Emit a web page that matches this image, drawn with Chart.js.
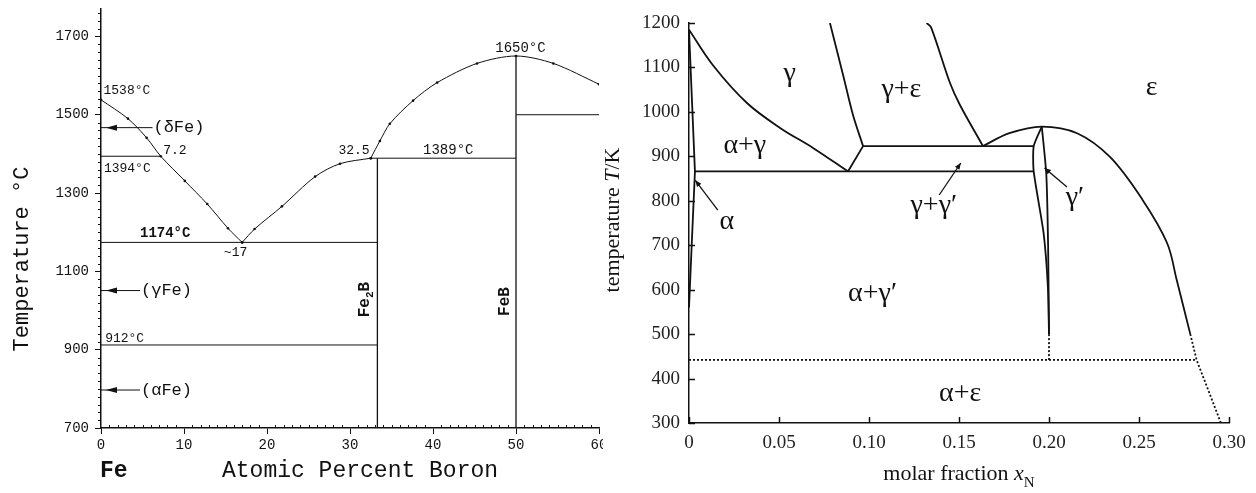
<!DOCTYPE html>
<html lang="en">
<head>
<meta charset="UTF-8" />
<title>Fe-B and Fe-N phase diagrams</title>
<script src="https://cdn.jsdelivr.net/npm/chart.js"></script>
<style>
  body { margin: 0; background: #fff; }
  #wrap { position: relative; width: 1256px; height: 493px; overflow: hidden; background: #fff; }
  #feb { position: absolute; left: 0; top: 0; }
  #fen { position: absolute; left: 600px; top: 0; }
</style>
</head>
<body>
<div id="wrap">
  <canvas id="feb" width="603" height="493"></canvas>
  <canvas id="fen" width="656" height="493"></canvas>
</div>
<script>
  // ---------- Fe-B (left panel), x = at.% B, y = °C ----------
  const FEB_X_TICKS = [0, 10, 20, 30, 40, 50, 60];
  const FEB_Y_TICKS = [700, 900, 1100, 1300, 1500, 1700];

  const FEB_LIQ_A_X = [0, 3.25, 5.5, 7.2, 10.1, 12.8, 15.3, 17];
  const FEB_LIQ_A_T = [1538, 1490, 1441, 1394, 1331, 1272, 1210, 1174];
  const FEB_LIQ_B_X = [17, 18.5, 21.8, 25.8, 28.8, 32.5];
  const FEB_LIQ_B_T = [1174, 1208, 1266, 1342, 1375, 1389];
  const FEB_LIQ_C_X = [32.5, 33.6, 34.8, 37.6, 40.5, 45.3, 50, 54.5, 60];
  const FEB_LIQ_C_T = [1389, 1433, 1477, 1536, 1582, 1631, 1650, 1631, 1578];

  // isotherms: from x0 to x1 at T
  const FEB_ISO_X0 = [0, 0, 0, 32.5, 50];
  const FEB_ISO_X1 = [7.2, 33.3, 33.3, 50, 60];
  const FEB_ISO_T = [1394, 1174, 912, 1389, 1500];

  // compounds (vertical lines)
  const FEB_COMP_X = [33.3, 50];
  const FEB_COMP_TOP = [1389, 1650];

  // pure-iron phases marked by arrows
  const FEB_PHASES = ['(δFe)', '(γFe)', '(αFe)'];
  const FEB_PHASE_T = [1467, 1051, 797];
  const FEB_ARROW_END = [6.2, 4.7, 4.7];

  // ---------- Fe-N (right panel), x = molar fraction N, y = K ----------
  const FEN_X_TICKS = [0, 0.05, 0.10, 0.15, 0.20, 0.25, 0.30];
  const FEN_Y_TICKS = [300, 400, 500, 600, 700, 800, 900, 1000, 1100, 1200];

  const FEN_ALPHA_X = [0, 0.0033, 0.0015, 0];
  const FEN_ALPHA_T = [1185, 866, 700, 560];
  const FEN_GAMMA_X = [0, 0.0133, 0.0322, 0.0506, 0.0689, 0.0883];
  const FEN_GAMMA_T = [1185, 1105, 1020, 964, 919, 866];
  const FEN_GE_L_X = [0.0783, 0.0856, 0.0911, 0.0967];
  const FEN_GE_L_T = [1200, 1083, 993, 923];
  const FEN_EUT_X = [0.0883, 0.0967];
  const FEN_EUT_T = [866, 923];
  const FEN_GE_R_X = [0.132, 0.1345, 0.145, 0.1506, 0.1633];
  const FEN_GE_R_T = [1200, 1190, 1065, 1015, 923];
  const FEN_EPS_X = [0.1633, 0.178, 0.196, 0.2156, 0.234, 0.252, 0.2656, 0.271, 0.2785];
  const FEN_EPS_T = [923, 952, 967, 952, 898, 802, 705, 621, 500];
  const FEN_EPS_DOT_X = [0.2785, 0.282, 0.2955];
  const FEN_EPS_DOT_T = [500, 442, 300];
  const FEN_GP_L_X = [0.196, 0.1915, 0.1915, 0.197, 0.1994, 0.2];
  const FEN_GP_L_T = [967, 923, 866, 727, 605, 500];
  const FEN_GP_R_X = [0.196, 0.1985, 0.1995, 0.2];
  const FEN_GP_R_T = [967, 860, 700, 500];
  const FEN_GP_DOT_X = [0.2, 0.2];
  const FEN_GP_DOT_T = [500, 442];
  const FEN_ISO_X0 = [0.0967, 0.0033];
  const FEN_ISO_X1 = [0.1915, 0.1915];
  const FEN_ISO_T = [923, 866];
  const FEN_LOW_X = [0, 0.282];
  const FEN_LOW_T = [442, 442];

  const INK = '#111';

  function pts(xs, ys) { return xs.map((x, i) => ({ x: x, y: ys[i] })); }

  function line(data, opts) {
    return Object.assign({
      data: data, showLine: true, borderColor: INK, borderWidth: 1,
      pointRadius: 0, fill: false, tension: 0
    }, opts || {});
  }

  // keep the plot box where the layout padding puts it
  function noPad(s) { s.paddingLeft = 0; s.paddingRight = 0; s.paddingTop = 0; s.paddingBottom = 0; }

  function arrow(ctx, x0, y0, x1, y1, head) {
    const ang = Math.atan2(y1 - y0, x1 - x0);
    ctx.beginPath();
    ctx.moveTo(x0, y0);
    ctx.lineTo(x1, y1);
    ctx.stroke();
    ctx.beginPath();
    ctx.moveTo(x1, y1);
    ctx.lineTo(x1 - head * Math.cos(ang - 0.4), y1 - head * Math.sin(ang - 0.4));
    ctx.lineTo(x1 - head * Math.cos(ang + 0.4), y1 - head * Math.sin(ang + 0.4));
    ctx.closePath();
    ctx.fill();
  }

  // ---------- left chart ----------
  const liqStyle = { tension: 0.3, pointRadius: 1.3, pointBackgroundColor: INK, pointBorderWidth: 0 };
  const febSets = [
    line(pts(FEB_LIQ_A_X, FEB_LIQ_A_T), liqStyle),
    line(pts(FEB_LIQ_B_X, FEB_LIQ_B_T), liqStyle),
    line(pts(FEB_LIQ_C_X, FEB_LIQ_C_T), liqStyle)
  ];
  FEB_ISO_T.forEach((t, i) => febSets.push(line(pts([FEB_ISO_X0[i], FEB_ISO_X1[i]], [t, t]))));
  FEB_COMP_X.forEach((x, i) => febSets.push(line(pts([x, x], [700, FEB_COMP_TOP[i]]), { borderWidth: 1.3 })));
  FEB_PHASE_T.forEach((t, i) => febSets.push(line(pts([0, FEB_ARROW_END[i]], [t, t]))));

  const febNotes = [
    { t: '1538°C', x: 0.3, y: 1562, s: 13 },
    { t: '7.2', x: 7.5, y: 1408, s: 13 },
    { t: '1394°C', x: 0.35, y: 1362, s: 13 },
    { t: '1174°C', x: 4.7, y: 1197, s: 14, b: true },
    { t: '~17', x: 14.8, y: 1149, s: 13 },
    { t: '912°C', x: 0.5, y: 928, s: 13 },
    { t: '32.5', x: 28.6, y: 1408, s: 13 },
    { t: '1389°C', x: 38.8, y: 1408, s: 14 },
    { t: '1650°C', x: 47.5, y: 1669, s: 14 }
  ];

  const febDecor = {
    id: 'febDecor',
    afterDraw(chart) {
      const { ctx, chartArea: a } = chart;
      const x = chart.scales.x, y = chart.scales.y;
      ctx.save();
      ctx.strokeStyle = INK;
      ctx.fillStyle = INK;
      ctx.lineWidth = 1;
      ctx.beginPath();
      for (let t = 720; t <= 1760; t += 20) {
        if (FEB_Y_TICKS.includes(t)) continue;
        const py = Math.round(y.getPixelForValue(t)) + 0.5;
        ctx.moveTo(a.left - 3, py); ctx.lineTo(a.left, py);
      }
      for (let v = 1; v < 60; v++) {
        if (v % 10 === 0) continue;
        const px = Math.round(x.getPixelForValue(v)) + 0.5;
        ctx.moveTo(px, a.bottom); ctx.lineTo(px, a.bottom - 3);
      }
      ctx.stroke();

      // arrow heads + phase names
      ctx.textBaseline = 'middle';
      FEB_PHASES.forEach((name, i) => {
        const py = y.getPixelForValue(FEB_PHASE_T[i]);
        const hx = x.getPixelForValue(0.6);
        ctx.beginPath();
        ctx.moveTo(hx, py);
        ctx.lineTo(hx + 11, py - 3);
        ctx.lineTo(hx + 11, py + 3);
        ctx.closePath();
        ctx.fill();
        ctx.font = '17px "Liberation Mono"';
        ctx.textAlign = 'left';
        ctx.fillText(name, x.getPixelForValue(FEB_ARROW_END[i]) + 1, py);
      });

      febNotes.forEach(n => {
        ctx.font = (n.b ? 'bold ' : '') + n.s + 'px "Liberation Mono"';
        ctx.textAlign = 'left';
        ctx.fillText(n.t, x.getPixelForValue(n.x), y.getPixelForValue(n.y));
      });

      // compound names, rotated
      const comp = [['Fe', '2', 'B', 31.8, 1028], ['FeB', '', '', 48.7, 1023]];
      comp.forEach(c => {
        ctx.save();
        ctx.translate(x.getPixelForValue(c[3]), y.getPixelForValue(c[4]));
        ctx.rotate(-Math.PI / 2);
        ctx.font = 'bold 16px "Liberation Mono"';
        const w1 = ctx.measureText(c[0]).width;
        ctx.font = 'bold 11px "Liberation Mono"';
        const w2 = ctx.measureText(c[1]).width;
        ctx.font = 'bold 16px "Liberation Mono"';
        const w3 = ctx.measureText(c[2]).width;
        let cx = -(w1 + w2 + w3) / 2;
        ctx.textAlign = 'left';
        ctx.fillText(c[0], cx, 0); cx += w1;
        ctx.font = 'bold 11px "Liberation Mono"';
        ctx.fillText(c[1], cx, 5); cx += w2;
        ctx.font = 'bold 16px "Liberation Mono"';
        ctx.fillText(c[2], cx, 0);
        ctx.restore();
      });

      // axis titles
      ctx.font = '23px "Liberation Mono"';
      ctx.textAlign = 'left';
      ctx.fillText('Atomic Percent Boron', 222, 471);
      ctx.font = 'bold 23px "Liberation Mono"';
      ctx.fillText('Fe', 100, 471);
      ctx.save();
      ctx.translate(22, 259);
      ctx.rotate(-Math.PI / 2);
      ctx.font = '22px "Liberation Mono"';
      ctx.textAlign = 'center';
      ctx.fillText('Temperature °C', 0, 0);
      ctx.restore();
      ctx.restore();
    }
  };

  new Chart(document.getElementById('feb'), {
    type: 'scatter',
    data: { datasets: febSets },
    options: {
      responsive: false,
      animation: false,
      layout: { padding: { top: 9, right: 4, left: 0, bottom: 0 } },
      plugins: { legend: { display: false }, tooltip: { enabled: false } },
      scales: {
        x: {
          type: 'linear', min: 0, max: 60,
          afterBuildTicks: s => { s.ticks = FEB_X_TICKS.map(v => ({ value: v })); },
          afterFit: s => { s.height = 65; noPad(s); },
          grid: { drawOnChartArea: false, tickLength: 6, color: INK },
          border: { color: INK, width: 1.5 },
          ticks: { color: INK, padding: 3, font: { family: 'Liberation Mono', size: 14 }, maxRotation: 0,
                   callback: v => String(v) }
        },
        y: {
          type: 'linear', min: 700, max: 1770,
          afterBuildTicks: s => { s.ticks = FEB_Y_TICKS.map(v => ({ value: v })); },
          afterFit: s => { s.width = 101; noPad(s); },
          grid: { drawOnChartArea: false, tickLength: 6, color: INK },
          border: { color: INK, width: 1.5 },
          ticks: { color: INK, padding: 6, font: { family: 'Liberation Mono', size: 14 },
                   callback: v => String(v) }
        }
      }
    },
    plugins: [febDecor]
  });

  // ---------- right chart ----------
  const W = 1.8;
  const fenSets = [
    line(pts(FEN_ALPHA_X, FEN_ALPHA_T), { borderWidth: W }),
    line(pts(FEN_GAMMA_X, FEN_GAMMA_T), { borderWidth: W, tension: 0.35 }),
    line(pts(FEN_GE_L_X, FEN_GE_L_T), { borderWidth: W, tension: 0.3 }),
    line(pts(FEN_EUT_X, FEN_EUT_T), { borderWidth: W }),
    line(pts(FEN_GE_R_X, FEN_GE_R_T), { borderWidth: W, tension: 0.3 }),
    line(pts(FEN_EPS_X, FEN_EPS_T), { borderWidth: W, tension: 0.35 }),
    line(pts(FEN_EPS_DOT_X, FEN_EPS_DOT_T), { borderWidth: W, borderDash: [2, 2] }),
    line(pts(FEN_GP_L_X, FEN_GP_L_T), { borderWidth: W, tension: 0.2 }),
    line(pts(FEN_GP_R_X, FEN_GP_R_T), { borderWidth: W, tension: 0.2 }),
    line(pts(FEN_GP_DOT_X, FEN_GP_DOT_T), { borderWidth: W, borderDash: [2, 2] }),
    line(pts(FEN_LOW_X, FEN_LOW_T), { borderWidth: W, borderDash: [2, 2] })
  ];
  FEN_ISO_T.forEach((t, i) => fenSets.push(line(pts([FEN_ISO_X0[i], FEN_ISO_X1[i]], [t, t]), { borderWidth: W })));

  const fenNotes = [
    { t: 'γ', x: 0.056, y: 1087 },
    { t: 'γ+ε', x: 0.118, y: 1049 },
    { t: 'ε', x: 0.257, y: 1054 },
    { t: 'α+γ', x: 0.031, y: 925 },
    { t: 'α', x: 0.021, y: 752 },
    { t: 'γ+γ′', x: 0.136, y: 790 },
    { t: 'γ′', x: 0.2144, y: 808 },
    { t: 'α+γ′', x: 0.102, y: 592 },
    { t: 'α+ε', x: 0.1506, y: 367 }
  ];
  const fenArrows = [
    [0.016, 779, 0.0035, 846],
    [0.139, 813, 0.151, 885],
    [0.21, 831, 0.1975, 874]
  ];

  const fenDecor = {
    id: 'fenDecor',
    afterDraw(chart) {
      const { ctx, chartArea: a } = chart;
      const x = chart.scales.x, y = chart.scales.y;
      ctx.save();
      ctx.strokeStyle = INK;
      ctx.fillStyle = INK;
      ctx.lineWidth = 1.5;
      ctx.beginPath();
      FEN_X_TICKS.forEach(v => {
        const px = Math.round(x.getPixelForValue(v)) + 0.5;
        ctx.moveTo(px, a.bottom); ctx.lineTo(px, a.bottom - 6);
      });
      FEN_Y_TICKS.forEach(v => {
        const py = Math.round(y.getPixelForValue(v)) + 0.5;
        ctx.moveTo(a.left, py); ctx.lineTo(a.left + 6, py);
      });
      ctx.stroke();

      ctx.lineWidth = 1.3;
      fenArrows.forEach(r => arrow(ctx, x.getPixelForValue(r[0]), y.getPixelForValue(r[1]),
        x.getPixelForValue(r[2]), y.getPixelForValue(r[3]), 7));

      ctx.font = '28px "Liberation Serif"';
      ctx.textAlign = 'center';
      ctx.textBaseline = 'middle';
      fenNotes.forEach(n => ctx.fillText(n.t, x.getPixelForValue(n.x), y.getPixelForValue(n.y)));

      // x title with italic x and subscript N
      ctx.textAlign = 'left';
      ctx.textBaseline = 'alphabetic';
      const p1 = 'molar fraction ';
      ctx.font = '22px "Liberation Serif"';
      const w1 = ctx.measureText(p1).width;
      ctx.font = 'italic 22px "Liberation Serif"';
      const w2 = ctx.measureText('x').width;
      ctx.font = '15px "Liberation Serif"';
      const w3 = ctx.measureText('N').width;
      let cx = 359 - (w1 + w2 + w3) / 2;
      ctx.font = '22px "Liberation Serif"';
      ctx.fillText(p1, cx, 480); cx += w1;
      ctx.font = 'italic 22px "Liberation Serif"';
      ctx.fillText('x', cx, 480); cx += w2;
      ctx.font = '15px "Liberation Serif"';
      ctx.fillText('N', cx, 487);

      // y title with italic T
      ctx.save();
      ctx.translate(19, 220);
      ctx.rotate(-Math.PI / 2);
      const parts = [['temperature ', ''], ['T', 'italic '], ['/K', '']];
      let tot = 0;
      parts.forEach(p => { ctx.font = p[1] + '22px "Liberation Serif"'; tot += ctx.measureText(p[0]).width; });
      let c2 = -tot / 2;
      parts.forEach(p => {
        ctx.font = p[1] + '22px "Liberation Serif"';
        ctx.fillText(p[0], c2, 0);
        c2 += ctx.measureText(p[0]).width;
      });
      ctx.restore();
      ctx.restore();
    }
  };

  new Chart(document.getElementById('fen'), {
    type: 'scatter',
    data: { datasets: fenSets },
    options: {
      responsive: false,
      animation: false,
      layout: { padding: { top: 23, right: 27, left: 0, bottom: 0 } },
      plugins: { legend: { display: false }, tooltip: { enabled: false } },
      scales: {
        x: {
          type: 'linear', min: 0, max: 0.3,
          afterBuildTicks: s => { s.ticks = FEN_X_TICKS.map(v => ({ value: v })); },
          afterFit: s => { s.height = 70; noPad(s); },
          grid: { drawOnChartArea: false, drawTicks: false },
          border: { color: INK, width: 1.5 },
          ticks: {
            color: '#222', padding: 9, maxRotation: 0,
            font: { family: 'Liberation Serif', size: 19 },
            callback: v => (v === 0 ? '0' : v.toFixed(2))
          }
        },
        y: {
          type: 'linear', min: 300, max: 1200,
          afterBuildTicks: s => { s.ticks = FEN_Y_TICKS.map(v => ({ value: v })); },
          afterFit: s => { s.width = 89; noPad(s); },
          grid: { drawOnChartArea: false, drawTicks: false },
          border: { color: INK, width: 1.5 },
          ticks: { color: '#222', padding: 9, font: { family: 'Liberation Serif', size: 19 },
                   callback: v => String(v) }
        }
      }
    },
    plugins: [fenDecor]
  });
</script>
</body>
</html>
